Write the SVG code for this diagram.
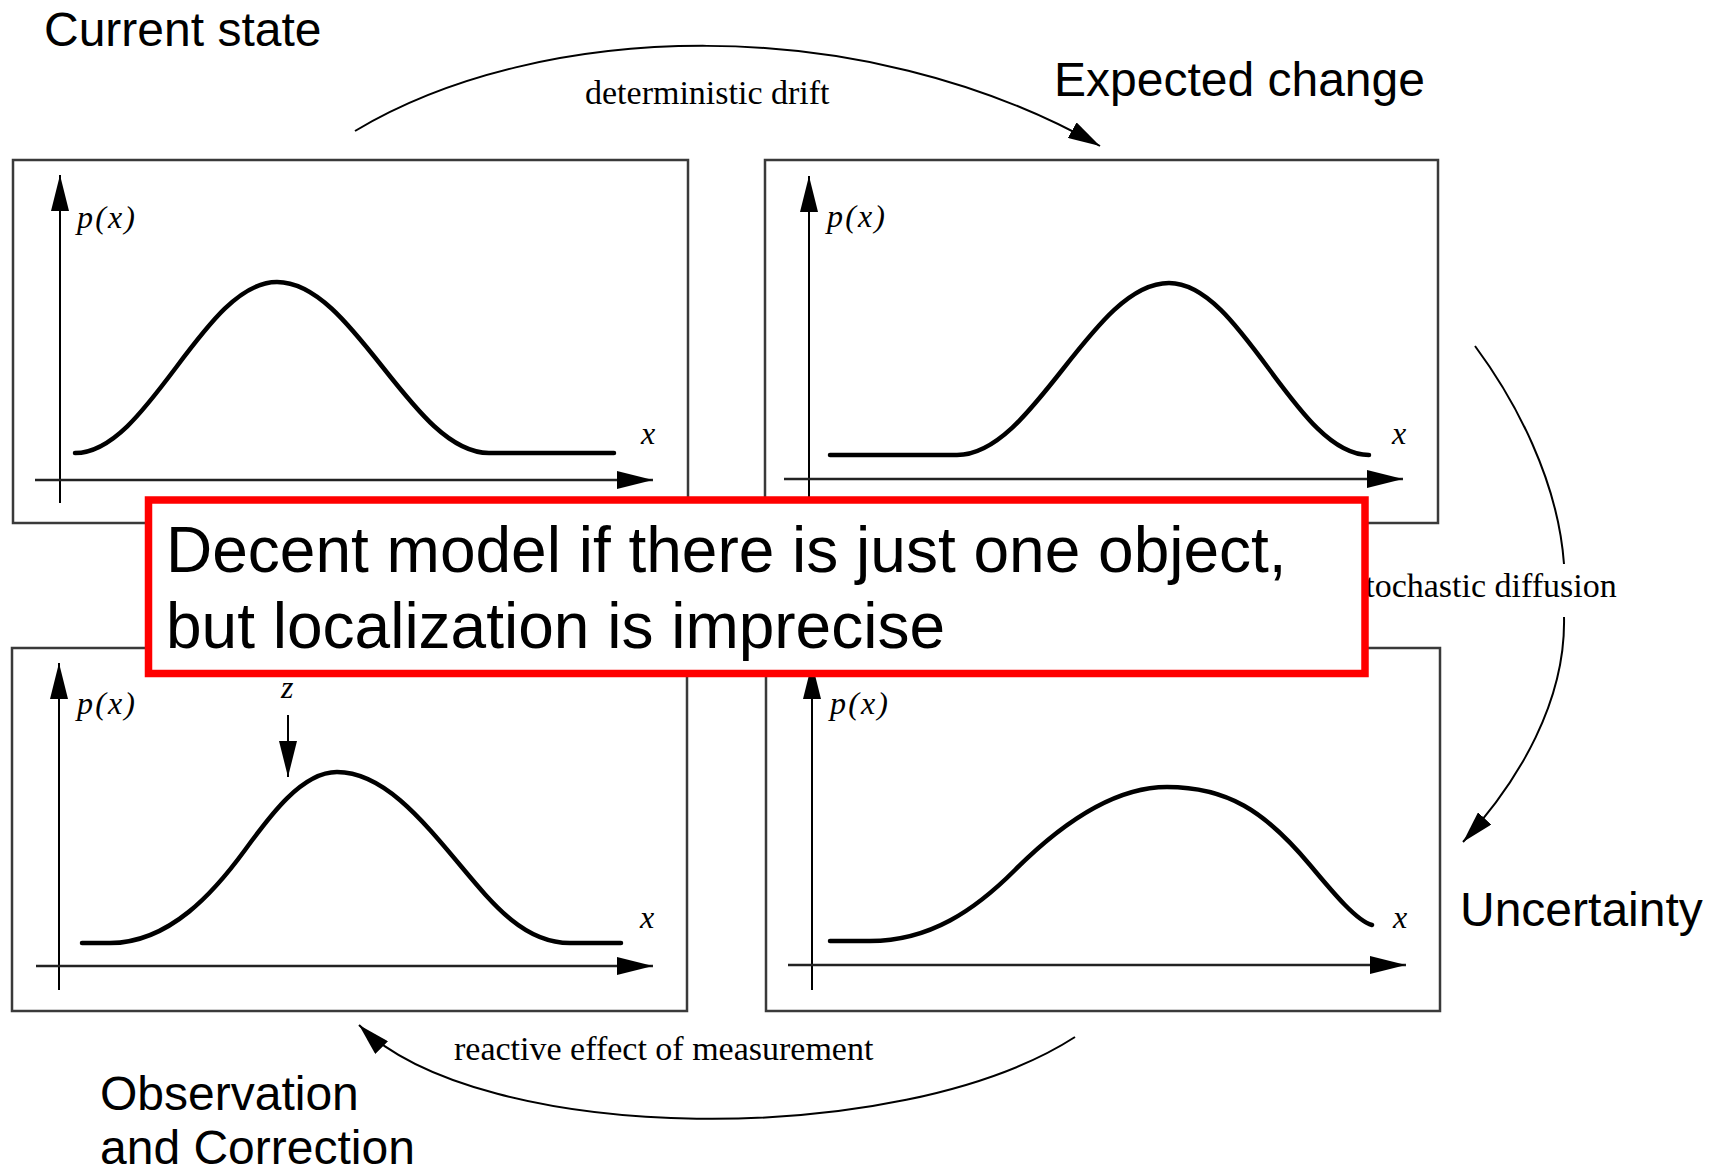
<svg xmlns="http://www.w3.org/2000/svg" width="1720" height="1172" viewBox="0 0 1720 1172">
<defs>
<style>
.box{fill:#fff;stroke:#3a3a3a;stroke-width:2.5}
.ax{stroke:#222;stroke-width:2.5;fill:none}
.ay{stroke:#000;stroke-width:2;fill:none}
.crv{stroke:#000;stroke-width:4.5;fill:none;stroke-linecap:round;stroke-linejoin:round}
.con{stroke:#000;stroke-width:2;fill:none}
.lbl{font-family:"Liberation Sans",Arial,sans-serif;font-size:48px;fill:#000}
.tm{font-family:"Liberation Serif","Times New Roman",serif;font-size:34px;fill:#000}
.it{font-family:"Liberation Serif","Times New Roman",serif;font-style:italic;fill:#000}
.px{font-size:32px}
.xv{font-size:32px}
.note{font-family:"Liberation Sans",Arial,sans-serif;font-size:64px;fill:#000}
</style>
<marker id="ah" viewBox="0 0 36 18" refX="36" refY="9" markerWidth="36" markerHeight="18" markerUnits="userSpaceOnUse" orient="auto">
<path d="M0,0 L36,9 L0,18 Z" fill="#000"/>
</marker>
<marker id="ac" viewBox="0 0 32 18" refX="32" refY="9" markerWidth="32" markerHeight="18" markerUnits="userSpaceOnUse" orient="auto">
<path d="M0,0 L32,9 L0,18 Z" fill="#000"/>
</marker>
</defs>
<rect width="1720" height="1172" fill="#fff"/>

<g id="title-labels">
<text class="lbl" x="44" y="46">Current state</text>
<text class="lbl" x="1054" y="96">Expected change</text>
<text class="lbl" x="1460" y="926">Uncertainty</text>
<text class="lbl" x="100" y="1110">Observation</text>
<text class="lbl" x="100" y="1164">and Correction</text>
</g>

<g id="connectors">
<path class="con" d="M355,131 C540,20 860,10 1100,146" marker-end="url(#ac)"/>
<text class="tm" x="585" y="104">deterministic drift</text>
<path class="con" d="M1475,346 C1515,400 1558,480 1564,564"/>
<path class="con" d="M1564,617 C1566,700 1520,780 1463,842" marker-end="url(#ac)"/>
<text class="tm" x="1352" y="597">stochastic diffusion</text>
<path class="con" d="M1075,1037 C900,1150 480,1146 359,1025" marker-end="url(#ac)"/>
<text class="tm" x="454" y="1060">reactive effect of measurement</text>
</g>

<g id="box-current">
<rect class="box" x="13" y="160" width="675" height="363"/>
<line class="ay" x1="60" y1="503" x2="60" y2="175" marker-end="url(#ah)"/>
<line class="ax" x1="35" y1="480" x2="653" y2="480" marker-end="url(#ah)"/>
<text class="it px" x="77" y="228" textLength="58" lengthAdjust="spacing">p(x)</text>
<text class="it xv" x="641" y="444">x</text>
<path class="crv" d="M75,453 C148.6,453 203.4,282 277,282 C354,282 412,453 489,453 L614,453"/>
</g>

<g id="box-expected">
<rect class="box" x="765" y="160" width="673" height="363"/>
<line class="ay" x1="809" y1="503" x2="809" y2="176" marker-end="url(#ah)"/>
<line class="ax" x1="784" y1="479" x2="1403" y2="479" marker-end="url(#ah)"/>
<text class="it px" x="827" y="227" textLength="58" lengthAdjust="spacing">p(x)</text>
<text class="it xv" x="1392" y="444">x</text>
<path class="crv" d="M830,455 L957,455 C1034,455 1092,283 1169,283 C1242,283 1296,455 1369,455"/>
</g>

<g id="box-observation">
<rect class="box" x="12" y="648" width="675" height="363"/>
<line class="ay" x1="59" y1="990" x2="59" y2="663" marker-end="url(#ah)"/>
<line class="ax" x1="36" y1="966" x2="653" y2="966" marker-end="url(#ah)"/>
<text class="it px" x="77" y="714" textLength="58" lengthAdjust="spacing">p(x)</text>
<text class="it xv" x="640" y="928">x</text>
<text class="it" font-size="32" x="281" y="698">z</text>
<line class="ay" x1="288" y1="715" x2="288" y2="777" marker-end="url(#ah)"/>
<path class="crv" d="M82,943 L110,943 C170,943 215,891 245,850 C270,815.5 302,772 337,772 C382,772 420,817 460,865 C495,907 525,943 570,943 L621,943"/>
</g>

<g id="box-uncertainty">
<rect class="box" x="766" y="648" width="674" height="363"/>
<line class="ay" x1="812" y1="990" x2="812" y2="663" marker-end="url(#ah)"/>
<line class="ax" x1="788" y1="965" x2="1406" y2="965" marker-end="url(#ah)"/>
<text class="it px" x="830" y="714" textLength="58" lengthAdjust="spacing">p(x)</text>
<text class="it xv" x="1393" y="928">x</text>
<path class="crv" d="M830,941 L870,941 C930,941 975,910 1015,870 C1060,825 1112,787 1167,787 C1227,787 1265,811 1310,865 C1335,895 1357,921 1372,925"/>
</g>

<g id="note">
<rect x="148.5" y="500" width="1216.5" height="173.5" fill="#fff" stroke="#ff0000" stroke-width="7.5"/>
<text class="note" x="166" y="572">Decent model if there is just one object,</text>
<text class="note" x="166" y="648">but localization is imprecise</text>
</g>
</svg>
